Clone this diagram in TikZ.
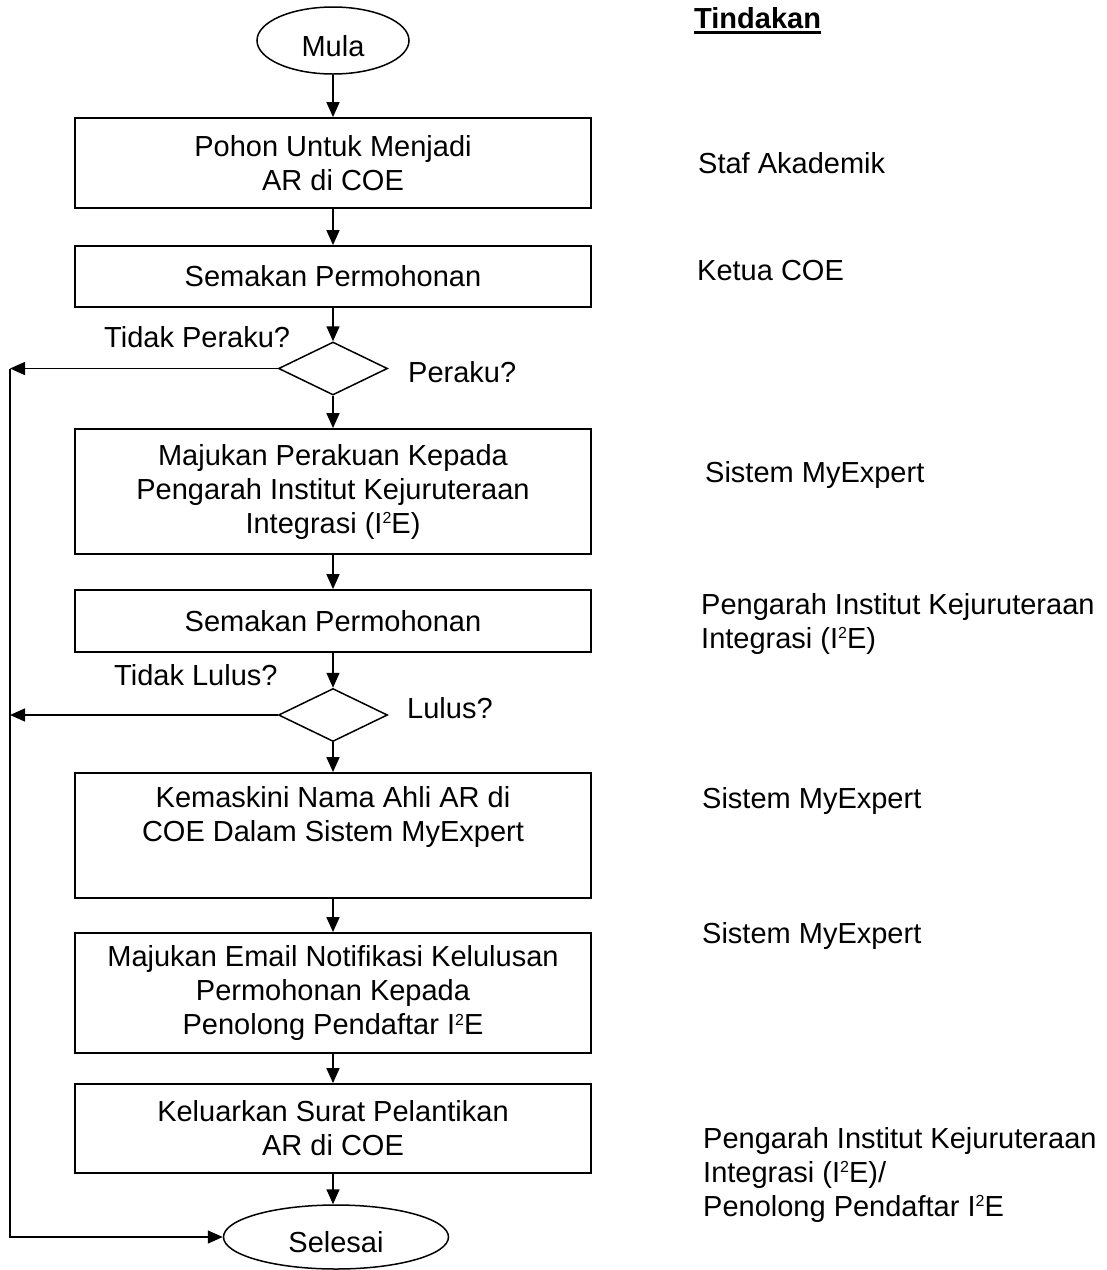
\documentclass[tikz,border=0pt]{standalone}
\usepackage{fontspec}
\setmainfont{Liberation Sans}
\usetikzlibrary{shapes.geometric,arrows.meta,calc}
\newcommand{\sqr}{\raisebox{9.5pt}{\fontsize{16}{16}\selectfont 2}}
\begin{document}
\begin{tikzpicture}[x=1pt,y=-1pt,
  every node/.style={font=\fontsize{29}{34}\selectfont, inner sep=0pt},
  arr/.style={line width=1.5pt,-{Triangle[length=15pt,width=13pt]}},
  stepbox/.style={draw,line width=1.8pt,minimum width=516pt,align=center},
  term/.style={draw,ellipse,line width=1.5pt,text height=31.5pt,text depth=0pt},
  dec/.style={draw,diamond,line width=1.5pt,minimum width=109pt,minimum height=53pt},
  lbl/.style={anchor=base west},
  lblm/.style={anchor=north west,align=left}]
\useasboundingbox (0,0) rectangle (1107,1270);

% flow column
\node[term,minimum width=152pt,minimum height=67pt] (mula) at (333,40.5) {Mula};
\node[stepbox,minimum height=90pt] (b1) at (333,163) {Pohon Untuk Menjadi\\AR di COE};
\node[stepbox,minimum height=61pt] (b2) at (333,276.5) {Semakan Permohonan};
\node[dec] (d1) at (333,368.5) {};
\node[stepbox,minimum height=125pt] (b3) at (333,491.5) {Majukan Perakuan Kepada\\Pengarah Institut Kejuruteraan\\Integrasi (I\sqr E)};
\node[stepbox,minimum height=62pt] (b4) at (333,621) {Semakan Permohonan};
\node[dec] (d2) at (333,715) {};
\node[stepbox,minimum height=125pt] (b5) at (333,835.5) {};
\node[align=center] (b5t) at (333,817) {Kemaskini Nama Ahli AR di\\COE Dalam Sistem MyExpert};
\node[stepbox,minimum height=120pt] (b6) at (333,993) {Majukan Email Notifikasi Kelulusan\\Permohonan Kepada\\Penolong Pendaftar I\sqr E};
\node[stepbox,minimum height=89pt] (b7) at (333,1128.5) {Keluarkan Surat Pelantikan\\AR di COE};
\node[term,minimum width=225pt,minimum height=64pt] (end) at (336,1237) {Selesai};

% decision labels
\node[lbl] (tp) at (104,347) {Tidak Peraku?};
\node[lbl] (pk) at (408,382) {Peraku?};
\node[lbl] (tl) at (114,685) {Tidak Lulus?};
\node[lbl] (ll) at (407,718) {Lulus?};

% connectors
\draw[arr] (mula.south) -- (b1.north);
\draw[arr] (b1.south) -- (b2.north);
\draw[arr] (b2.south) -- (d1.north);
\draw[arr] (d1.south) -- (b3.north);
\draw[arr] (b3.south) -- (b4.north);
\draw[arr] (b4.south) -- (d2.north);
\draw[arr] (d2.south) -- (b5.north);
\draw[arr] (b5.south) -- (b6.north);
\draw[arr] (b6.south) -- (b7.north);
\draw[arr] (b7.south) -- (b7.south |- end.north);

\coordinate (L1) at (10,368.5);
\coordinate (L2) at (10,715);
\draw[arr] (d1.west) -- (L1);
\draw[arr] (d2.west) -- (L2);
\draw[arr] (L1) |- (end.west);

% Tindakan column
\node[lbl,font=\fontsize{29}{34}\selectfont\bfseries] (tind) at (694,28) {Tindakan};
\draw[line width=3pt] ($(tind.base west)+(0,4.5)$) -- ($(tind.base east)+(0,4.5)$);
\node[lbl] (a1) at (698,173) {Staf Akademik};
\node[lbl] (a2) at (697,280) {Ketua COE};
\node[lbl] (a3) at (705,482) {Sistem MyExpert};
\node[lblm] (a4) at (701,593) {Pengarah Institut Kejuruteraan\\Integrasi (I\sqr E)};
\node[lbl] (a5) at (702,808) {Sistem MyExpert};
\node[lbl] (a6) at (702,943) {Sistem MyExpert};
\node[lblm] (a7) at (703,1127) {Pengarah Institut Kejuruteraan\\Integrasi (I\sqr E)/\\Penolong Pendaftar I\sqr E};
\end{tikzpicture}
\end{document}
